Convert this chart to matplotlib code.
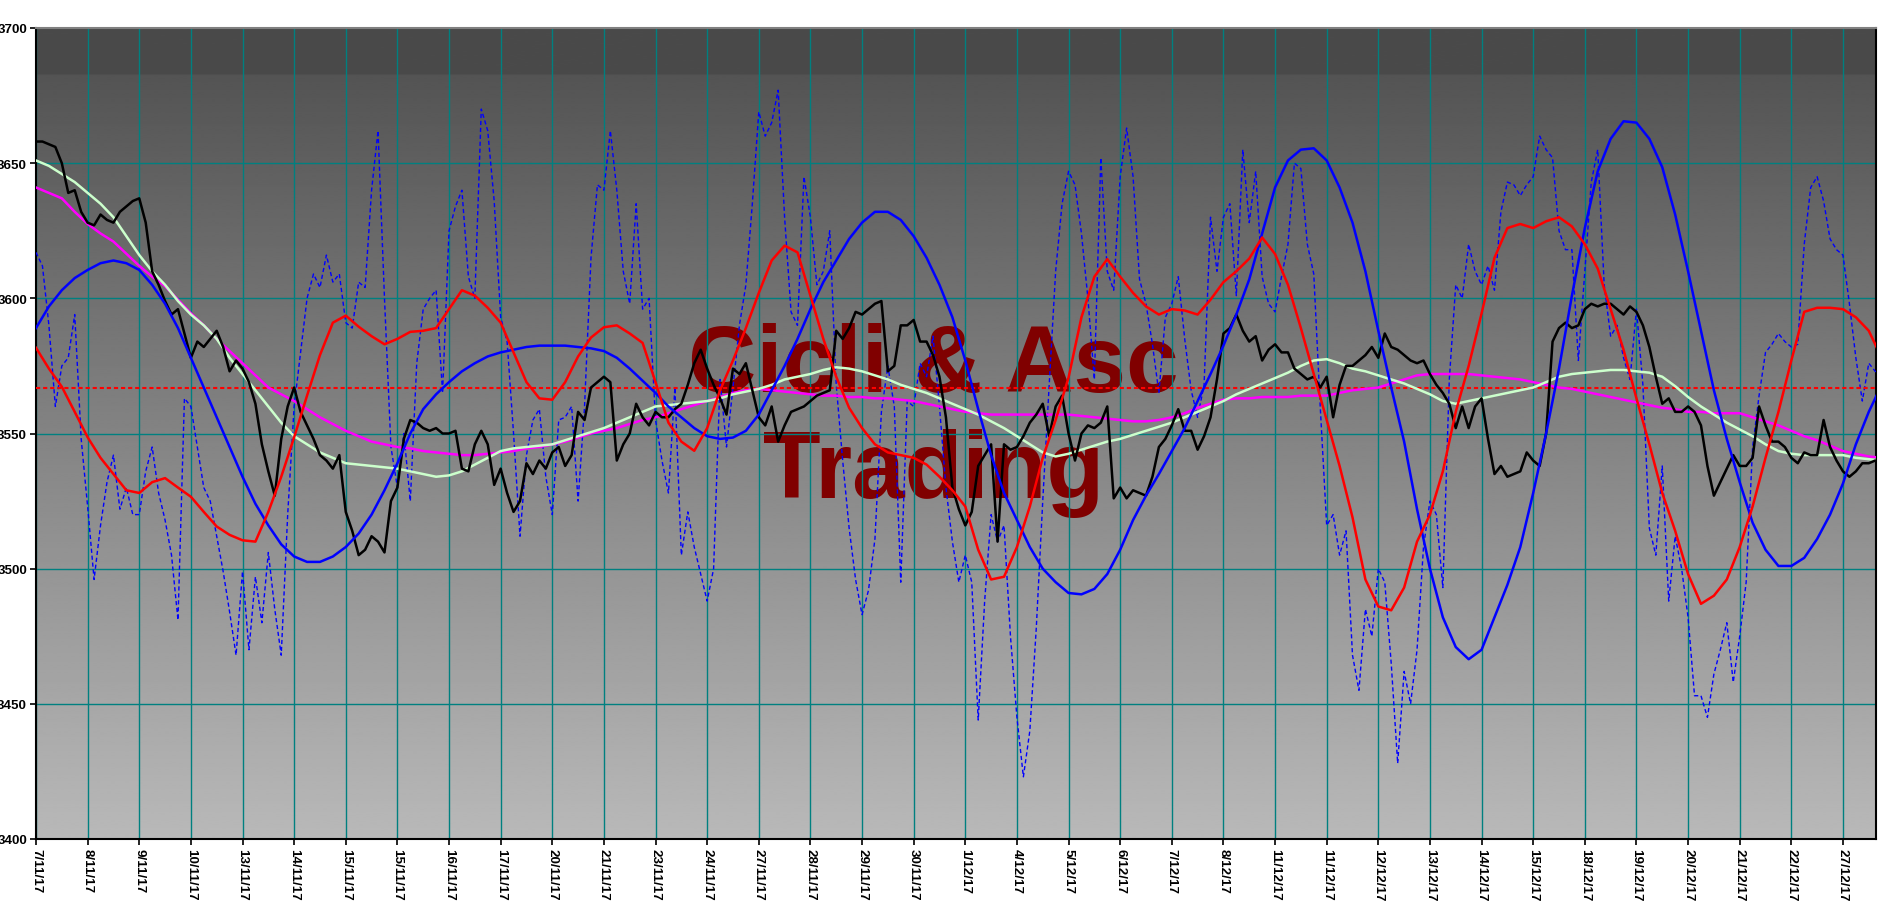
import numpy as np
import matplotlib
matplotlib.use("Agg")
import matplotlib.pyplot as plt

# ---------------- data ----------------
dates = ["7/11/17", "8/11/17", "9/11/17", "10/11/17", "13/11/17", "14/11/17",
         "15/11/17", "15/11/17", "16/11/17", "17/11/17", "20/11/17", "21/11/17",
         "23/11/17", "24/11/17", "27/11/17", "28/11/17", "29/11/17", "30/11/17",
         "1/12/17", "4/12/17", "5/12/17", "6/12/17", "7/12/17", "8/12/17",
         "11/12/17", "11/12/17", "12/12/17", "13/12/17", "14/12/17", "15/12/17",
         "18/12/17", "19/12/17", "20/12/17", "21/12/17", "22/12/17", "27/12/17"]

y_ticks = [3400, 3450, 3500, 3550, 3600, 3650, 3700]
ref_level = 3567

# price (8 samples per labelled interval)
price = [
    3658, 3658, 3657, 3656, 3650, 3639, 3640, 3632,
    3628, 3627, 3631, 3629, 3628, 3632, 3634, 3636,
    3637, 3628, 3610, 3605, 3599, 3594, 3596, 3587,
    3578, 3584, 3582, 3585, 3588, 3582, 3573, 3577,
    3574, 3569, 3561, 3546, 3536, 3527, 3548, 3560,
    3567, 3558, 3553, 3548, 3542, 3540, 3537, 3542,
    3521, 3514, 3505, 3507, 3512, 3510, 3506, 3525,
    3530, 3548, 3555, 3554, 3552, 3551, 3552, 3550,
    3550, 3551, 3537, 3536, 3546, 3551, 3546, 3531,
    3537, 3528, 3521, 3525, 3539, 3535, 3540, 3537,
    3543, 3545, 3538, 3542, 3558, 3555, 3567, 3569,
    3571, 3569, 3540, 3546, 3550, 3561, 3556, 3553,
    3558, 3556, 3556, 3559, 3561, 3568, 3576, 3581,
    3574, 3568, 3563, 3557, 3574, 3572, 3576, 3566,
    3556, 3553, 3560, 3547, 3553, 3558, 3559, 3560,
    3562, 3564, 3565, 3566, 3588, 3585, 3589, 3595,
    3594, 3596, 3598, 3599, 3573, 3575, 3590, 3590,
    3592, 3584, 3584, 3579, 3571, 3556, 3530, 3522,
    3516, 3521, 3538, 3542, 3546, 3510, 3546, 3544,
    3545, 3549, 3554, 3557, 3561, 3549, 3560, 3564,
    3550, 3540, 3550, 3553, 3552, 3554, 3560, 3526,
    3530, 3526, 3529, 3528, 3527, 3534, 3545, 3548,
    3553, 3559, 3551, 3551, 3544, 3549, 3556, 3570,
    3587, 3589, 3594, 3588, 3584, 3586, 3577, 3581,
    3583, 3580, 3580, 3574, 3572, 3570, 3571, 3567,
    3571, 3556, 3568, 3575, 3575, 3577, 3579, 3582,
    3578, 3587, 3582, 3581, 3579, 3577, 3576, 3577,
    3572, 3568, 3565, 3561, 3552, 3560, 3552, 3560,
    3563, 3548, 3535, 3538, 3534, 3535, 3536, 3543,
    3540, 3538, 3550, 3584, 3589, 3591, 3589, 3590,
    3596, 3598, 3597, 3598, 3598, 3596, 3594, 3597,
    3595, 3590, 3582, 3571, 3561, 3563, 3558, 3558,
    3560, 3558, 3553, 3538, 3527, 3532, 3537, 3542,
    3538, 3538, 3541, 3560, 3553, 3547, 3547, 3545,
    3541, 3539, 3543, 3542, 3542, 3555, 3545, 3540,
    3536, 3534, 3536, 3539, 3539, 3540, 3540, 3540,
]

# fast oscillator (dotted blue), 8 samples per interval
fast = [
    3617, 3612, 3590, 3560, 3575, 3578, 3594, 3548,
    3523, 3496, 3516, 3532, 3542, 3522, 3530, 3520,
    3520, 3536, 3545, 3528, 3518, 3505, 3481, 3563,
    3560, 3545, 3530, 3525, 3512, 3499, 3484, 3468,
    3499, 3470, 3497, 3480, 3506, 3485, 3468, 3520,
    3560, 3580, 3600, 3609, 3604, 3616, 3606, 3609,
    3591, 3589, 3606, 3604, 3640, 3662, 3600, 3545,
    3530, 3550, 3525, 3576, 3596, 3600, 3603, 3565,
    3625, 3634, 3640, 3608, 3600, 3670, 3662, 3636,
    3593, 3584, 3550, 3512, 3542, 3555, 3559, 3534,
    3520, 3555, 3556, 3560, 3525, 3560, 3615, 3642,
    3640, 3662, 3640, 3610, 3598, 3635, 3596, 3600,
    3555, 3540, 3528, 3567, 3505, 3521, 3508, 3498,
    3488, 3500, 3570, 3545, 3567, 3590, 3605, 3635,
    3669, 3660, 3665, 3677, 3630, 3595, 3590, 3645,
    3630, 3605, 3610, 3625, 3568, 3540, 3515, 3496,
    3483, 3492, 3511, 3558, 3575, 3560, 3495, 3562,
    3560, 3576, 3571, 3586, 3560, 3530, 3510, 3495,
    3505, 3495, 3444, 3488, 3520, 3510, 3516, 3475,
    3445, 3423, 3440, 3478, 3525, 3568, 3610, 3635,
    3647, 3642, 3624, 3600, 3570, 3652, 3610, 3603,
    3645, 3663, 3645, 3607, 3598, 3583, 3565, 3593,
    3598, 3608, 3585, 3566, 3556, 3568, 3630, 3610,
    3630, 3635, 3601, 3655, 3628, 3647, 3608, 3598,
    3595, 3608, 3620, 3650, 3648, 3620, 3609, 3560,
    3516, 3520, 3505, 3514, 3468, 3455, 3485, 3475,
    3500, 3495, 3465, 3428, 3462, 3450, 3470, 3508,
    3525, 3520, 3493, 3570, 3605, 3600, 3620, 3610,
    3605, 3612, 3603, 3632, 3643, 3642, 3638, 3642,
    3645, 3660, 3655, 3652, 3625, 3618, 3618, 3577,
    3610, 3643, 3655, 3605, 3586, 3590, 3578, 3570,
    3596, 3568, 3515, 3505, 3538, 3488, 3512, 3500,
    3482, 3453, 3453, 3445, 3461, 3470, 3480, 3458,
    3475, 3495, 3545, 3564, 3580, 3583, 3587, 3584,
    3582, 3583, 3620, 3641, 3645, 3636, 3622, 3618,
    3616, 3598, 3578, 3562, 3576, 3573, 3572, 3572,
]

# smooth curves, 4 samples per interval
slow_avg = [
    3651, 3649, 3646, 3643, 3639, 3635, 3630, 3623, 3616, 3610, 3605, 3599,
    3594, 3590, 3585, 3578, 3572, 3566, 3560, 3554, 3549, 3546, 3543, 3541,
    3539, 3538.5, 3538, 3537.5, 3537, 3536, 3535, 3534, 3534.5, 3536, 3538.5, 3541,
    3543.5, 3544.5, 3545, 3545.5, 3546, 3547.5, 3549, 3550.5, 3552, 3554, 3556, 3558,
    3560, 3560.5, 3561, 3561.5, 3562, 3563, 3564.5, 3565.5, 3566.5, 3568, 3570, 3571,
    3572, 3573.5, 3574.5, 3574, 3573, 3571.5, 3570, 3568, 3566.5, 3565, 3563, 3561,
    3559, 3557, 3554.5, 3552, 3549, 3546, 3543, 3541.5, 3542.5, 3544, 3545.5, 3547,
    3548, 3549.5, 3551, 3552.5, 3554, 3556, 3558, 3560, 3562, 3564.5, 3566.5, 3568.5,
    3570.5, 3572.5, 3575, 3577, 3577.5, 3576, 3574, 3573, 3571.5, 3570, 3568.5, 3566.5,
    3564.5, 3562, 3561, 3562, 3563, 3564, 3565, 3566, 3567, 3569, 3571, 3572,
    3572.5, 3573, 3573.5, 3573.5, 3573, 3572.5, 3571, 3567.5, 3563.5, 3560, 3557, 3554,
    3551.5, 3549, 3546, 3543.5, 3542.5, 3542, 3542, 3542, 3542, 3541, 3540.5, 3540,
]

long_avg = [
    3641, 3639, 3637, 3632, 3627.5, 3624, 3621, 3616.5, 3612, 3608, 3604.5, 3599.5,
    3594.5, 3590, 3585, 3580.5, 3576, 3571.5, 3567, 3564.5, 3562, 3559, 3556, 3553.5,
    3551, 3549, 3547, 3546, 3545, 3544.5, 3543.5, 3543, 3542.5, 3542, 3542, 3542.5,
    3543, 3543.5, 3544.5, 3545, 3546, 3547, 3548.5, 3550, 3551, 3552, 3553.5, 3555,
    3556, 3557.5, 3559, 3560.5, 3562, 3563.5, 3565, 3566, 3566.5, 3566, 3565.5, 3565,
    3564.5, 3564, 3564, 3563.5, 3563.5, 3563, 3563, 3562.5, 3562, 3561, 3560, 3559,
    3558, 3557.5, 3557, 3557, 3557, 3557, 3557, 3557, 3557, 3556.5, 3556, 3555.5,
    3555, 3554.5, 3554.5, 3555, 3556, 3557.5, 3559.5, 3561, 3562.5, 3563, 3563, 3563.5,
    3563.5, 3563.5, 3564, 3564, 3564, 3565, 3566, 3566.5, 3567, 3568.5, 3570, 3571.5,
    3572, 3572, 3572, 3572, 3571.5, 3571, 3570.5, 3570, 3569, 3568, 3567, 3566.5,
    3565.5, 3564.5, 3563.5, 3562.5, 3561.5, 3560.5, 3559.5, 3559, 3558, 3558, 3557.5, 3557.5,
    3557.5, 3556, 3554.5, 3553, 3551, 3549, 3547.5, 3545.5, 3543.5, 3542.5, 3541.5, 3541,
]

cycle_blue = [
    3589, 3597, 3603, 3607.5, 3610.5, 3613, 3614, 3613, 3610.5, 3605, 3598, 3589,
    3578, 3567, 3556, 3545, 3534, 3524, 3516, 3509, 3504.5, 3502.5, 3502.5, 3504.5,
    3508, 3513, 3520, 3529, 3539, 3550, 3559, 3564.5, 3569, 3573, 3576, 3578.5,
    3580, 3581, 3582, 3582.5, 3582.5, 3582.5, 3582, 3581.5, 3580.5, 3578, 3574, 3569.5,
    3565, 3560, 3556, 3552, 3549, 3548, 3548.5, 3551, 3557, 3566, 3575, 3585,
    3596, 3606, 3614, 3622, 3628, 3632, 3632, 3629, 3623, 3615, 3605, 3593,
    3577, 3559, 3542, 3528, 3518, 3508, 3500, 3495, 3491, 3490.5, 3492.5, 3498,
    3507, 3518, 3527, 3535, 3543.5, 3552, 3562, 3572, 3582.5, 3594, 3607, 3624,
    3641, 3651, 3655, 3655.5, 3651, 3641, 3628, 3610, 3588, 3567, 3547, 3522,
    3500, 3482, 3471, 3466.5, 3470, 3482, 3494, 3508, 3528, 3550, 3574, 3601,
    3626, 3647, 3659, 3665.5, 3665, 3659, 3648.5, 3631, 3610, 3588, 3566, 3548,
    3532, 3517, 3507, 3501, 3501, 3504, 3511, 3520, 3531.5, 3546, 3558, 3568,
]

cycle_red = [
    3581.7, 3574, 3567.3, 3558, 3548.6, 3541, 3535, 3529, 3528, 3532, 3533.5, 3530,
    3526.6, 3521, 3515.6, 3512.5, 3510.5, 3510, 3521, 3534, 3548.6, 3564, 3579, 3591,
    3593.6, 3589.5, 3586, 3583, 3585, 3587.6, 3588, 3589, 3596, 3603, 3601, 3596.5,
    3591, 3580, 3569, 3563, 3562.5, 3569, 3578.5, 3585.5, 3589.3, 3590, 3587, 3583.5,
    3569, 3554, 3547, 3543.6, 3552, 3566, 3577, 3589, 3602, 3614, 3619.5, 3617,
    3601, 3585, 3571, 3559.5, 3552, 3546, 3543, 3542, 3541, 3538.5, 3534, 3529,
    3523, 3507, 3496, 3497, 3508, 3523, 3541, 3555, 3570.7, 3593, 3608, 3614.5,
    3608, 3602, 3597, 3594, 3596, 3595.5, 3594, 3599.5, 3606, 3610, 3614.7, 3622.5,
    3616.4, 3605, 3589, 3572, 3555, 3538, 3519, 3496, 3486, 3484.6, 3493, 3510,
    3520, 3536, 3558, 3575, 3594.4, 3615, 3626, 3627.5, 3626, 3628.5, 3630, 3626.6,
    3620, 3611, 3596, 3581, 3563, 3546, 3528, 3514, 3498, 3487, 3490, 3496,
    3508, 3523, 3541, 3558, 3577, 3595, 3596.5, 3596.5, 3596, 3593, 3588, 3578,
]

# ---------------- figure ----------------
W, H, DPI = 1885, 904, 100
fig = plt.figure(figsize=(W / DPI, H / DPI), dpi=DPI, facecolor="white")
ax = fig.add_axes([36 / W, 1 - 840 / H, (1876 - 36) / W, (840 - 29) / H])

n_int = len(dates)
x_end = 35.64
ymin, ymax = 3400, 3700

# background gradient
levels = np.linspace(0, 1, 400)[:, None]
shade = 0.305 + 0.42 * levels
shade[levels[:, 0] < 0.057] = 0.29
ax.imshow(np.repeat(shade, 2, axis=1), cmap="gray", vmin=0, vmax=1,
          extent=(0, x_end, ymin, ymax), origin="upper", aspect="auto",
          zorder=0, interpolation="bilinear")

# watermark
wm_font = dict(family="Liberation Sans", weight="bold", size=68, color="#800000")
ax.text(17.39, 3565.7, "Cicli & Asc", ha="center", va="baseline", zorder=1, **wm_font)
ax.text(17.39, 3526.5, "Trading", ha="center", va="baseline", zorder=1, **wm_font)

# grid
for k in range(n_int):
    ax.axvline(k, color="#008080", lw=1.0, zorder=2)
for v in y_ticks[1:-1]:
    ax.axhline(v, color="#008080", lw=1.0, zorder=2)

x_fine = np.arange(len(price)) / 8.0
x_fast = np.arange(len(fast)) / 8.0
x_smooth = np.arange(len(slow_avg)) / 4.0

ax.plot(x_fast, fast, color="#0000ff", lw=1.0, linestyle=(0, (3, 2)), zorder=3)
ax.axhline(ref_level, color="#ff0000", lw=1.5, linestyle=(0, (2, 1.4)), zorder=3)
ax.plot(x_smooth, long_avg, color="#ff00ff", lw=1.8, zorder=4)
ax.plot(x_smooth, slow_avg, color="#ccffcc", lw=1.8, zorder=4)
ax.plot(x_fine, price, color="#000000", lw=1.8, zorder=5)
ax.plot(x_smooth, cycle_blue, color="#0000ff", lw=1.8, zorder=6)
ax.plot(x_smooth, cycle_red, color="#ff0000", lw=1.8, zorder=6)

ax.set_xlim(0, x_end)
ax.set_ylim(ymin, ymax)

tick_font = dict(family="Liberation Sans", weight="bold", size=9.6)
ax.set_xticks(range(n_int))
ax.set_xticklabels(dates, rotation=270, ha="center", va="top", **tick_font)
ax.set_yticks(y_ticks)
ax.set_yticklabels([str(v) for v in y_ticks], **tick_font)
ax.tick_params(axis="x", length=4.5, width=1.2, pad=2, color="black")
ax.tick_params(axis="y", length=4.5, width=1.2, pad=2, color="black")

for side in ["left", "bottom", "right"]:
    ax.spines[side].set_color("black")
    ax.spines[side].set_linewidth(1.5)
ax.spines["top"].set_color("#808080")
ax.spines["top"].set_linewidth(1.5)

fig.savefig("out.png", dpi=DPI, facecolor="white")
